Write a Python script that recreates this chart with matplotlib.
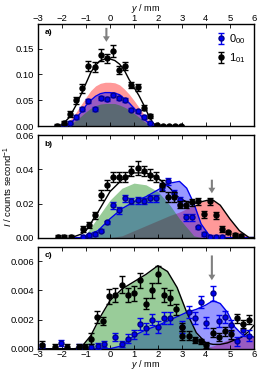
import numpy as np
import matplotlib
matplotlib.use('Agg')
import matplotlib.pyplot as plt

plt.rcParams.update({'font.size': 7, 'font.family': ['Liberation Sans', 'DejaVu Sans'],
                     'mathtext.fontset': 'custom', 'mathtext.rm': 'Liberation Sans',
                     'mathtext.it': 'Liberation Sans:italic'})

# ---- panel a ----
a_x1 = [-2.2, -1.93, -1.67, -1.4, -1.16, -0.9, -0.63, -0.37, -0.13, 0.14, 0.39, 0.64, 0.88, 1.16, 1.4, 1.65, 1.98, 2.23, 2.47, 2.72, 2.96]
a_y1 = [0.001, 0.006, 0.023, 0.05, 0.073, 0.117, 0.115, 0.138, 0.131, 0.145, 0.109, 0.116, 0.08, 0.075, 0.036, 0.02, 0.002, 0.001, 0.001, 0.001, 0.001]
a_e1 = [0.003, 0.004, 0.006, 0.007, 0.008, 0.01, 0.01, 0.012, 0.008, 0.012, 0.008, 0.008, 0.006, 0.006, 0.005, 0.004, 0.002, 0.002, 0.002, 0.002, 0.002]
a_x0 = [-1.93, -1.67, -1.4, -1.16, -0.9, -0.63, -0.37, -0.13, 0.14, 0.39, 0.64, 0.88, 1.16, 1.4, 1.65]
a_y0 = [0.002, 0.007, 0.018, 0.034, 0.049, 0.034, 0.055, 0.052, 0.06, 0.055, 0.05, 0.032, 0.029, 0.018, 0.006]
a_e0 = [0.002, 0.003, 0.003, 0.004, 0.004, 0.004, 0.004, 0.004, 0.004, 0.004, 0.004, 0.003, 0.003, 0.003, 0.002]
a_fx = [-2.3, -2.0, -1.7, -1.4, -1.2, -1.0, -0.8, -0.6, -0.4, -0.2, 0.0, 0.2, 0.4, 0.6, 0.8, 1.0, 1.2, 1.4, 1.6, 1.8, 2.0, 2.3]
a_black = [0.0, 0.003, 0.017, 0.042, 0.062, 0.083, 0.104, 0.118, 0.127, 0.13, 0.13, 0.127, 0.12, 0.108, 0.09, 0.075, 0.06, 0.042, 0.022, 0.006, 0.0, 0.0]
a_blue = [0.0, 0.0, 0.004, 0.017, 0.027, 0.04, 0.05, 0.058, 0.063, 0.065, 0.065, 0.064, 0.061, 0.053, 0.045, 0.035, 0.025, 0.015, 0.007, 0.002, 0.0, 0.0]
a_red = [0.0, 0.002, 0.01, 0.028, 0.042, 0.056, 0.069, 0.078, 0.083, 0.085, 0.085, 0.084, 0.08, 0.072, 0.062, 0.05, 0.037, 0.024, 0.012, 0.004, 0.0, 0.0]
a_green = [0.0, 0.0, 0.003, 0.012, 0.02, 0.028, 0.035, 0.04, 0.043, 0.044, 0.044, 0.044, 0.041, 0.037, 0.032, 0.025, 0.018, 0.01, 0.004, 0.0, 0.0, 0.0]

# ---- panel b ----
b_x1 = [-2.15, -1.9, -1.63, -1.14, -0.89, -0.61, -0.38, -0.13, 0.14, 0.39, 0.64, 0.88, 1.16, 1.4, 1.65, 1.9, 2.15, 2.41, 2.66, 2.9, 3.15, 3.43, 3.67, 3.92, 4.18, 4.43, 4.69, 4.94, 5.2, 5.45]
b_y1 = [0.0005, 0.0002, 0.0004, 0.005, 0.0074, 0.013, 0.025, 0.031, 0.0356, 0.0356, 0.0356, 0.039, 0.041, 0.039, 0.037, 0.0356, 0.0306, 0.024, 0.024, 0.0194, 0.0194, 0.0206, 0.0214, 0.0136, 0.0214, 0.013, 0.005, 0.003, 0.0015, 0.0008]
b_e1 = [0.001, 0.001, 0.001, 0.002, 0.002, 0.002, 0.003, 0.003, 0.003, 0.003, 0.003, 0.003, 0.004, 0.003, 0.003, 0.003, 0.003, 0.003, 0.003, 0.002, 0.002, 0.002, 0.002, 0.002, 0.002, 0.002, 0.002, 0.001, 0.001, 0.001]
b_x0 = [-1.14, -0.89, -0.63, -0.38, -0.13, 0.14, 0.39, 0.64, 0.88, 1.16, 1.4, 1.65, 1.9, 2.15, 2.41, 2.66, 2.9, 3.15, 3.43, 3.67, 3.92, 4.18, 4.43, 4.69]
b_y0 = [0.0004, 0.0012, 0.002, 0.004, 0.009, 0.019, 0.016, 0.023, 0.0215, 0.022, 0.0215, 0.023, 0.023, 0.030, 0.033, 0.026, 0.022, 0.012, 0.012, 0.006, 0.002, 0.0003, 0.0003, 0.0003]
b_e0 = [0.001, 0.001, 0.001, 0.001, 0.001, 0.002, 0.002, 0.002, 0.002, 0.002, 0.002, 0.002, 0.002, 0.002, 0.002, 0.002, 0.002, 0.002, 0.002, 0.001, 0.001, 0.001, 0.001, 0.001]
b_fx = [-1.6, -1.2, -1.0, -0.5, 0.0, 0.5, 1.0, 1.5, 2.0, 2.5, 2.9, 3.2, 3.5, 3.8, 4.1, 4.3, 4.6, 5.0, 5.4, 5.8, 6.0]
b_black = [0.0, 0.002, 0.004, 0.015, 0.027, 0.034, 0.038, 0.038, 0.035, 0.029, 0.023, 0.021, 0.02, 0.021, 0.022, 0.022, 0.019, 0.011, 0.004, 0.0, 0.0]
b_blue = [0.0, 0.0, 0.001, 0.004, 0.011, 0.017, 0.021, 0.024, 0.028, 0.032, 0.033, 0.029, 0.02, 0.008, 0.002, 0.0, 0.0, 0.0, 0.0, 0.0, 0.0]
b_red = [0.0, 0.0, 0.0, 0.0, 0.0, 0.001, 0.004, 0.007, 0.01, 0.013, 0.015, 0.017, 0.019, 0.021, 0.022, 0.022, 0.019, 0.011, 0.004, 0.0, 0.0]
b_green = [0.0, 0.0, 0.002, 0.012, 0.022, 0.029, 0.032, 0.031, 0.027, 0.019, 0.011, 0.006, 0.001, 0.0, 0.0, 0.0, 0.0, 0.0, 0.0, 0.0, 0.0]

# ---- panel c ----
c_x1 = [-2.82, -2.3, -1.8, -1.28, -1.05, -0.8, -0.54, -0.28, -0.03, 0.22, 0.49, 0.74, 0.99, 1.24, 1.51, 1.74, 2.0, 2.26, 2.51, 2.76, 3.01, 3.01, 3.28, 3.53, 3.79, 4.02, 4.3, 4.55, 4.8, 5.05, 5.3, 5.55, 5.8]
c_y1 = [0.00025, 0.0001, 0.0001, 0.0001, 0.0001, 0.0007, 0.0022, 0.0019, 0.0036, 0.0037, 0.0044, 0.0037, 0.0038, 0.0047, 0.0031, 0.004, 0.0051, 0.0037, 0.0035, 0.0027, 0.0015, 0.0009, 0.0009, 0.0006, 0.0005, 0.00025, 0.0011, 0.0008, 0.0012, 0.001, 0.0021, 0.0017, 0.002]
c_e1 = [0.0003, 0.0002, 0.0002, 0.0002, 0.0002, 0.0004, 0.0004, 0.0003, 0.0005, 0.0005, 0.0006, 0.0005, 0.0005, 0.0005, 0.0004, 0.0005, 0.0006, 0.0005, 0.0005, 0.0004, 0.0003, 0.0003, 0.0003, 0.0002, 0.0002, 0.0002, 0.0003, 0.0003, 0.0003, 0.0003, 0.0003, 0.0003, 0.0003]
c_x0 = [-2.82, -2.05, -1.28, -0.8, -0.52, -0.27, 0.22, 0.49, 0.74, 0.99, 1.24, 1.51, 1.74, 2.0, 2.26, 2.51, 3.01, 3.28, 3.53, 3.79, 4.02, 4.3, 4.55, 4.8, 5.05, 5.3, 5.55, 5.8]
c_y0 = [0.0001, 0.0004, 0.00015, 0.0001, 0.0002, 0.0003, 0.0008, 0.0003, 0.0007, 0.001, 0.0017, 0.0014, 0.002, 0.0015, 0.0021, 0.0021, 0.0015, 0.0025, 0.0021, 0.0032, 0.0018, 0.0038, 0.0019, 0.0022, 0.0016, 0.0005, 0.0013, 0.0009]
c_e0 = [0.0002, 0.0002, 0.0002, 0.0002, 0.0002, 0.0002, 0.0003, 0.0002, 0.0003, 0.0003, 0.0004, 0.0004, 0.0004, 0.0004, 0.0004, 0.0004, 0.0004, 0.0004, 0.0004, 0.0004, 0.0004, 0.0005, 0.0004, 0.0004, 0.0004, 0.0003, 0.0004, 0.0004]
c_fx = [-3.0, -1.5, -1.2, -0.8, -0.4, 0.0, 0.5, 1.0, 1.5, 2.0, 2.4, 2.8, 3.2, 3.6, 4.0, 4.3, 4.6, 4.9, 5.2, 5.5, 5.8, 6.0]
c_black = [0.0, 0.0, 0.0001, 0.0009, 0.0022, 0.0033, 0.0041, 0.0046, 0.0051, 0.0057, 0.0053, 0.0042, 0.0025, 0.0011, 0.0004, 0.0003, 0.0003, 0.0004, 0.0006, 0.0008, 0.0012, 0.0016]
c_blue = [0.0, 0.0, 0.0, 0.0, 0.0, 0.0, 0.0002, 0.0009, 0.0013, 0.0016, 0.0019, 0.0022, 0.0025, 0.0027, 0.003, 0.0033, 0.0031, 0.0025, 0.0015, 0.001, 0.0009, 0.0008]
c_red = [0.0, 0.0, 0.0, 0.0, 0.0, 0.0, 0.0, 0.0, 0.0, 0.0, 0.0, 0.0, 0.0, 0.0, 0.0001, 0.0002, 0.0004, 0.0006, 0.0007, 0.0008, 0.0009, 0.0009]
c_green = [0.0, 0.0, 0.0001, 0.0009, 0.0022, 0.0033, 0.0041, 0.0046, 0.0051, 0.0057, 0.0053, 0.0042, 0.0025, 0.001, 0.0002, 0.0, 0.0, 0.0, 0.0, 0.0, 0.0, 0.0]

arrow_x = [-0.15, 4.25, 4.25]
arrow_y = [(0.19, 0.163), (0.034, 0.026), (0.0064, 0.0047)]
ylims = [0.197, 0.06, 0.007]
yticks = [[0.0, 0.05, 0.10, 0.15], [0.0, 0.02, 0.04, 0.06], [0.0, 0.002, 0.004, 0.006]]
ytickfmt = ['%.2f', '%.2f', '%.3f']
labels = ['a)', 'b)', 'c)']

panels = [
    (a_x0, a_y0, a_e0, a_x1, a_y1, a_e1, a_fx, a_black, a_blue, a_red, a_green),
    (b_x0, b_y0, b_e0, b_x1, b_y1, b_e1, b_fx, b_black, b_blue, b_red, b_green),
    (c_x0, c_y0, c_e0, c_x1, c_y1, c_e1, c_fx, c_black, c_blue, c_red, c_green),
]

fig, axes = plt.subplots(3, 1, figsize=(2.59, 3.73), dpi=100, sharex=True)
fig.subplots_adjust(left=0.147, right=0.98, top=0.935, bottom=0.065, hspace=0.09)

for i, ax in enumerate(axes):
    x0, y0, e0, x1, y1, e1, fx, fb, fbl, fr, fg = panels[i]
    ax.fill_between(fx, 0, fr, color='red', alpha=0.4, lw=0)
    ax.fill_between(fx, 0, fbl, color='blue', alpha=0.4, lw=0)
    ax.fill_between(fx, 0, fg, color='green', alpha=0.4, lw=0)
    ax.plot(fx, fbl, color='#0000ee', lw=1)
    ax.plot(fx, fb, color='black', lw=1)
    h0 = ax.errorbar(x0, y0, yerr=e0, fmt='o', color='#0000ee', mec='#00008b', ms=3.6, capsize=2, elinewidth=1, capthick=1, zorder=4)
    h1 = ax.errorbar(x1, y1, yerr=e1, fmt='o', color='black', ms=3.6, capsize=2, elinewidth=1, capthick=1, zorder=5)
    ax.annotate('', xy=(arrow_x[i], arrow_y[i][1]), xytext=(arrow_x[i], arrow_y[i][0]),
                arrowprops=dict(color='gray', width=1.5, headwidth=5, headlength=4, lw=0))
    ax.set_xlim(-3, 6)
    ax.set_ylim(0, ylims[i])
    ax.set_yticks(yticks[i])
    ax.set_yticklabels([ytickfmt[i] % v for v in yticks[i]])
    ax.set_xticks(range(-3, 7))
    ax.tick_params(direction='in', top=True, length=3, width=0.6, labelsize=6.8)
    ax.tick_params(axis='x', pad=1)
    ax.tick_params(axis='y', pad=3)
    ax.text(0.03, 0.95, labels[i], transform=ax.transAxes, fontsize=6, fontweight='bold', va='top')
    for s in ax.spines.values():
        s.set_linewidth(1)
    if i == 0:
        ax.legend([h0, h1], ['$0_{00}$', '$1_{01}$'], loc='upper right', frameon=False,
                  fontsize=8, handletextpad=0.3, handlelength=1.0, borderaxespad=0.3)

axes[0].tick_params(labeltop=True, labelbottom=False)
axes[0].xaxis.set_label_position('top')
axes[0].set_xlabel('$y$ / mm', labelpad=2, fontsize=6.5)
axes[2].set_xlabel('$y$ / mm', labelpad=-0.5, fontsize=6.5)
axes[1].set_ylabel('$I$ / counts second$^{-1}$', labelpad=0, fontsize=6.8)

plt.savefig('out.png', dpi=100)
